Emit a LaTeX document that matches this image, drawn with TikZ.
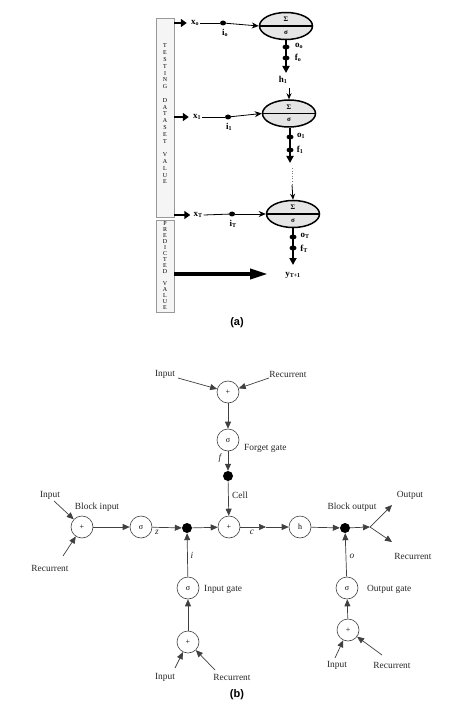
\documentclass[tikz,border=0pt]{standalone}
\usepackage{fontspec}
\setmainfont{Liberation Serif}
\newfontfamily\arialf{Liberation Sans}
\usetikzlibrary{arrows.meta,shapes.geometric}
\begin{document}
\begin{tikzpicture}[x=1pt,y=-1pt,
  vbox/.style={draw=gray!80, fill=gray!8, line width=0.6pt, inner sep=0pt},
  vlet/.style={font=\fontsize{6}{6.8}\selectfont, align=center, inner sep=0pt},
  vletb/.style={font=\fontsize{6}{6.0}\selectfont, align=center, inner sep=0pt},
  cellell/.style={ellipse, draw=black, line width=1.5pt, fill=gray!20, minimum width=53pt, minimum height=27pt, inner sep=0pt},
  elltxt/.style={font=\bfseries\fontsize{7}{7}\selectfont, inner sep=0pt},
  albl/.style={font=\bfseries\fontsize{9}{9}\selectfont, inner sep=1pt},
  tarr/.style={line width=2.6pt, -{Triangle[length=6pt,width=8pt]}},
  thinarr/.style={line width=0.8pt, -{Stealth[length=7pt,width=6pt]}},
  varr/.style={line width=2.2pt, -{Triangle[length=7pt,width=7pt]}},
  idot/.style={ellipse, fill=black, minimum width=6pt, minimum height=5pt, inner sep=0pt},
  vdot/.style={ellipse, fill=black, minimum width=7pt, minimum height=5pt, inner sep=0pt},
  bline/.style={draw=black!75, line width=0.7pt},
  barr/.style={bline, -{Triangle[length=7pt,width=6pt]}},
  circ/.style={circle, draw=black!75, line width=0.6pt, minimum size=22pt, inner sep=0pt, font=\fontsize{8}{8}\selectfont},
  bdot/.style={circle, fill=black, minimum size=10pt, inner sep=0pt},
  lbl/.style={font=\fontsize{9.4}{10}\selectfont, text=black!85, inner sep=1pt},
  ilbl/.style={font=\itshape\fontsize{9.4}{10}\selectfont, text=black!85, inner sep=1pt},
  figcap/.style={font=\arialf\bfseries\fontsize{11}{11}\selectfont}
]
\useasboundingbox (0,0) rectangle (474,708);

% ================= (a) =================
\node[vbox, minimum width=18pt, minimum height=199pt] (box1) at (165,117.5) {};
\node[vbox, minimum width=18pt, minimum height=92pt] (box2) at (165,266) {};
\node[vlet] (t1) at (165,114) {T\\E\\S\\T\\I\\N\\G\\[6.8pt]D\\A\\T\\A\\S\\E\\T\\[6.8pt]V\\A\\L\\U\\E};
\node[vletb] (t2) at (165,266) {P\\R\\E\\D\\I\\C\\T\\E\\D\\[6pt]V\\A\\L\\U\\E};

% ellipses
\node[cellell] (e1) at (286,26) {};
\node[cellell] (e2) at (289,113.5) {};
\node[cellell] (e3) at (293,214) {};
\foreach \e in {e1,e2,e3}{
  \draw[line width=1.2pt] (\e.west) -- (\e.east);
  \node[elltxt] at ([yshift=6.5pt]\e.center) {Σ};
  \node[elltxt] at ([yshift=-6.5pt]\e.center) {σ};
}

% inputs
\node[albl] (x0) at (195,23) {x\textsubscript{o}};
\node[albl] (x1) at (197,117) {x\textsubscript{1}};
\node[albl] (xT) at (198,215) {x\textsubscript{T}};
\draw[tarr] (box1.east |- x0) -- ([xshift=-3pt]x0.west);
\draw[tarr] (box1.east |- x1) -- ([xshift=-3pt]x1.west);
\draw[tarr] (box1.east |- xT) -- ([xshift=-2pt]xT.west);

\node[idot] (i0) at (223,23) {};
\node[idot] (i1) at (228,117) {};
\node[idot] (iT) at (232,214) {};
\node[albl] (i0l) at (225,33) {i\textsubscript{o}};
\node[albl] (i1l) at (229,127) {i\textsubscript{1}};
\node[albl] (iTl) at (233,224) {i\textsubscript{T}};
\draw[line width=0.8pt] (x0.east) -- (i0);
\draw[thinarr] (i0) -- (e1.west);
\draw[line width=0.8pt] (x1.east) -- (i1);
\draw[thinarr] (i1) -- (e2.west);
\draw[line width=0.8pt] (xT.east) -- (iT);
\draw[thinarr] (iT) -- (e3.west);

% outputs of ellipses
\coordinate (d1) at (286,73);
\coordinate (d2) at (290,163);
\coordinate (d3) at (293,265);
\draw[varr] (e1.south) -- (d1);
\draw[varr] ([xshift=1pt]e2.south) -- (d2);
\draw[varr] (e3.south) -- (d3);
\node[vdot] (o0) at (286,47) {};
\node[vdot] (f0) at (286,58) {};
\node[vdot] (o1) at (290,137) {};
\node[vdot] (f1) at (290,150) {};
\node[vdot] (oT) at (293,237) {};
\node[vdot] (fT) at (293,248) {};
\node[albl] at (299,46) {o\textsubscript{o}};
\node[albl] at (298,58) {f\textsubscript{o}};
\node[albl] at (301,136) {o\textsubscript{1}};
\node[albl] at (300,150) {f\textsubscript{1}};
\node[albl] at (305,236) {o\textsubscript{T}};
\node[albl] at (304,249) {f\textsubscript{T}};

\node[albl] (h1) at (283,80) {h\textsubscript{1}};
\coordinate (h1s) at (289,88);
\draw[line width=0.8pt, -{Stealth[length=6pt,width=5pt]}] (h1s) -- (e2.north);

\coordinate (dots1) at (292,168);
\coordinate (dots2) at (292,185);
\draw[line width=0.6pt, dotted, gray] (dots1) -- (dots2);
\draw[line width=0.8pt, -{Stealth[length=6pt,width=5pt]}] (dots2) -- (e3.north);

\node[albl] (yT) at (293,275) {y\textsubscript{T+1}};
\coordinate (ybig) at (268,274);
\draw[line width=3.8pt, -{Triangle[length=18pt,width=10pt]}] (box2.east |- ybig) -- (ybig);

\node[figcap] (capa) at (237,323) {(a)};

% ================= (b) =================
\node[circ] (topplus) at (228,392) {+};
\node[circ] (fsig) at (228,440) {σ};
\node[bdot] (fdot) at (228,476) {};
\node[circ] (cplus) at (229,527) {+};
\node[circ] (binplus) at (82,527) {+};
\node[circ] (zsig) at (141,527) {σ};
\node[bdot] (idotb) at (187,528) {};
\node[circ] (isig) at (188,588) {σ};
\node[circ] (iplus) at (188,642) {+};
\node[circ] (hc) at (300,527) {h};
\node[bdot] (odotb) at (345,528) {};
\node[circ] (osig) at (347,588) {σ};
\node[circ] (oplus) at (348,630) {+};

% labels
\node[lbl] (tin) at (165,374) {Input};
\node[lbl] (trec) at (288,374) {Recurrent};
\node[lbl, anchor=west] (fg) at (243,448) {Forget gate};
\node[ilbl] (fl) at (220,458) {f};
\node[lbl, anchor=west] (celll) at (231,495) {Cell};
\node[lbl] (bin) at (50,495) {Input};
\node[lbl] (brec) at (50,568) {Recurrent};
\node[lbl] (binl) at (97,507) {Block input};
\node[ilbl] (zl) at (157,532) {z};
\node[ilbl] (il) at (192,555) {i};
\node[lbl, anchor=west] (igl) at (203,589) {Input gate};
\node[lbl] (iin) at (165,677) {Input};
\node[lbl] (irec) at (232,677) {Recurrent};
\node[ilbl] (cl) at (252,532) {c};
\node[lbl] (bout) at (352,507) {Block output};
\node[lbl] (outl) at (410,495) {Output};
\node[lbl] (orecl) at (413,556) {Recurrent};
\node[ilbl] (ol) at (352,556) {o};
\node[lbl, anchor=west] (ogl) at (366,589) {Output gate};
\node[lbl] (oin) at (337,665) {Input};
\node[lbl] (orec) at (392,665) {Recurrent};
\node[figcap] (capb) at (237,695) {(b)};

% start coordinates
\coordinate (s1) at (178,378);
\coordinate (s2) at (269,378);
\coordinate (s3) at (54,501);
\coordinate (s4) at (63,556);
\coordinate (s5) at (175,668);
\coordinate (s6) at (215,670);
\coordinate (s7) at (335,658);
\coordinate (s8) at (382,655);
\coordinate (cmid) at (266,527);
\coordinate (split) at (370,527);
\coordinate (oo) at (392,505);
\coordinate (orr) at (392,542);

% connectors
\draw[barr] (s1) -- (topplus);
\draw[barr] (s2) -- (topplus);
\draw[barr] (topplus) -- (fsig);
\draw[barr] (fsig) -- (fdot);
\draw[barr] (fdot) -- (cplus);
\draw[barr] (s3) -- (binplus);
\draw[barr] (s4) -- (binplus);
\draw[barr] (binplus) -- (zsig);
\draw[barr] (zsig) -- (idotb);
\draw[barr] (idotb) -- (cplus);
\draw[barr] (isig) -- (idotb);
\draw[barr] (iplus) -- (isig);
\draw[barr] (s5) -- (iplus);
\draw[barr] (s6) -- (iplus);
\draw[barr] (cplus) -- (cmid);
\draw[barr] (cmid) -- (hc);
\draw[barr] (hc) -- (odotb);
\draw[barr] (odotb) -- (split);
\draw[barr] (split) -- (oo);
\draw[barr] (split) -- (orr);
\draw[barr] (osig) -- (odotb);
\draw[barr] (oplus) -- (osig);
\draw[barr] (s7) -- (oplus);
\draw[barr] (s8) -- (oplus);
\end{tikzpicture}
\end{document}
